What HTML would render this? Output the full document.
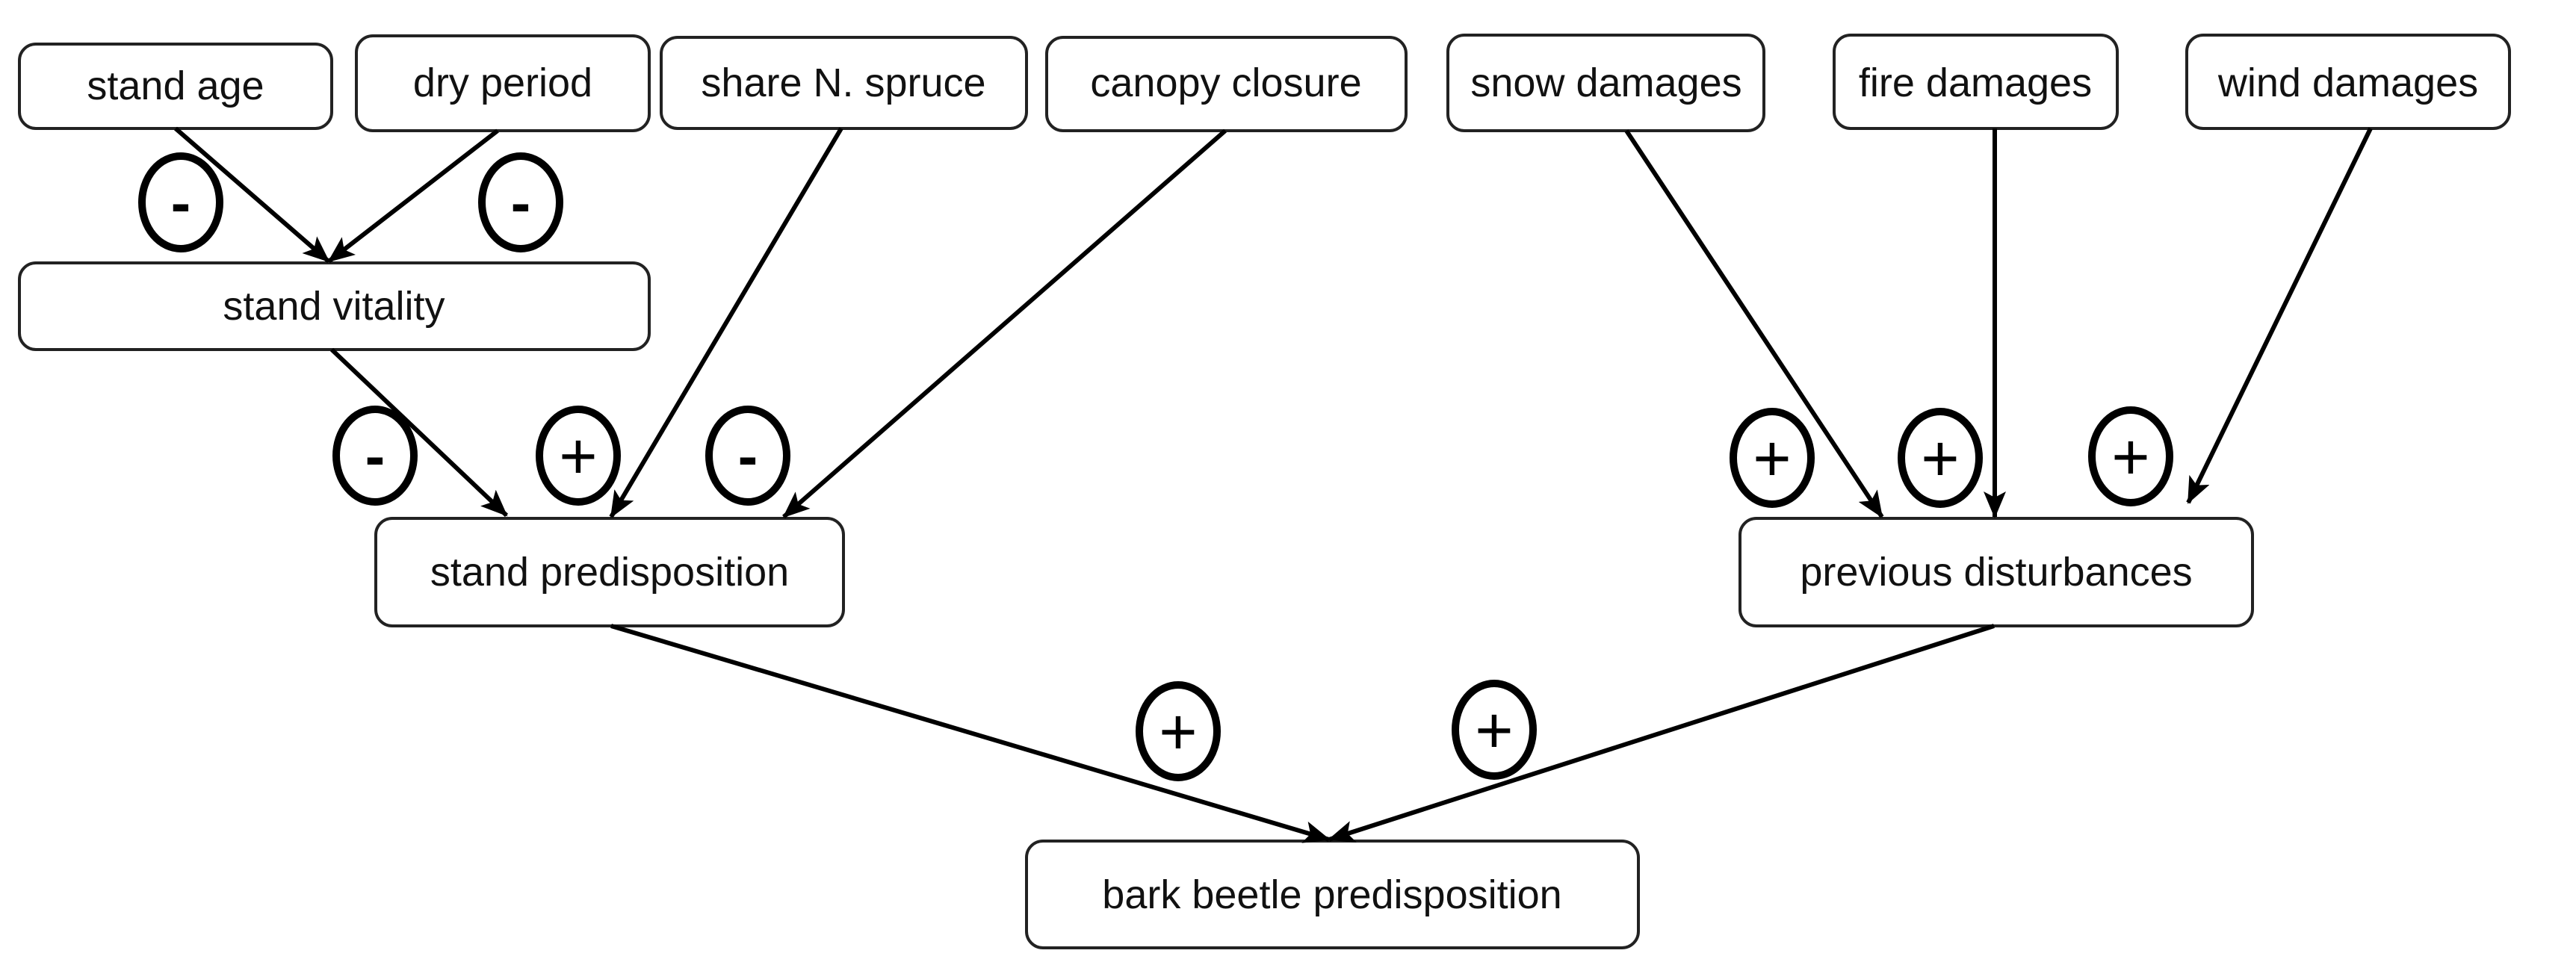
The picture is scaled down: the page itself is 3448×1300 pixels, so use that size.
<!DOCTYPE html>
<html><head><meta charset="utf-8"><style>
html,body{margin:0;padding:0;background:#fff;}
svg{display:block;}
text{font-family:"Liberation Sans",sans-serif;font-size:54px;fill:#111;}
.p{font-size:88px;font-weight:normal;fill:#000;}
.m{font-size:80px;font-weight:bold;fill:#000;}
</style></head><body>
<svg width="3448" height="1300" viewBox="0 0 3448 1300" xmlns="http://www.w3.org/2000/svg">
<defs>
<marker id="a" markerUnits="userSpaceOnUse" markerWidth="36" markerHeight="30" refX="34" refY="15" orient="auto">
<path d="M0,0 L36,15 L0,30 L8,15 Z" fill="#000"/>
</marker>
</defs>
<g fill="#fff" stroke="#222" stroke-width="4">
<rect x="26" y="59" width="418" height="113" rx="22"/>
<rect x="477" y="48" width="392" height="127" rx="22"/>
<rect x="885" y="50" width="489" height="122" rx="22"/>
<rect x="1401" y="50" width="481" height="125" rx="22"/>
<rect x="1938" y="47" width="423" height="128" rx="22"/>
<rect x="2455" y="47" width="379" height="125" rx="22"/>
<rect x="2927" y="47" width="432" height="125" rx="22"/>
<rect x="26" y="352" width="843" height="116" rx="22"/>
<rect x="503" y="694" width="626" height="144" rx="22"/>
<rect x="2329" y="694" width="686" height="144" rx="22"/>
<rect x="1374" y="1126" width="819" height="143" rx="22"/>
</g>
<g text-anchor="middle">
<text x="235" y="133">stand age</text>
<text x="673" y="129">dry period</text>
<text x="1129" y="129">share N. spruce</text>
<text x="1641" y="129">canopy closure</text>
<text x="2150" y="129">snow damages</text>
<text x="2644" y="129">fire damages</text>
<text x="3143" y="129">wind damages</text>
<text x="447" y="428">stand vitality</text>
<text x="816" y="784">stand predisposition</text>
<text x="2672" y="784">previous disturbances</text>
<text x="1783" y="1216">bark beetle predisposition</text>
</g>
<g stroke="#000" stroke-width="6" fill="none" marker-end="url(#a)">
<line x1="235" y1="172" x2="440" y2="350"/>
<line x1="666" y1="175" x2="440" y2="350"/>
<line x1="444" y1="468" x2="678" y2="690"/>
<line x1="1126" y1="172" x2="818" y2="692"/>
<line x1="1640" y1="175" x2="1049" y2="692"/>
<line x1="2177" y1="175" x2="2519" y2="692"/>
<line x1="2670" y1="172" x2="2670" y2="692"/>
<line x1="3173" y1="172" x2="2929" y2="673"/>
<line x1="818" y1="838" x2="1779" y2="1124"/>
<line x1="2669" y1="838" x2="1779" y2="1124"/>
</g>
<g fill="#fff" stroke="#000" stroke-width="10">
<ellipse cx="242" cy="271" rx="52" ry="62"/>
<ellipse cx="697" cy="271" rx="52" ry="62"/>
<ellipse cx="502" cy="610" rx="52" ry="62"/>
<ellipse cx="774" cy="610" rx="52" ry="62"/>
<ellipse cx="1001" cy="610" rx="52" ry="62"/>
<ellipse cx="1577" cy="979" rx="52" ry="62"/>
<ellipse cx="2000" cy="977" rx="52" ry="62"/>
<ellipse cx="2372" cy="613" rx="52" ry="62"/>
<ellipse cx="2597" cy="613" rx="52" ry="62"/>
<ellipse cx="2852" cy="611" rx="52" ry="62"/>
</g>
<g text-anchor="middle">
<text class="m" x="242" y="299">-</text>
<text class="m" x="697" y="299">-</text>
<text class="m" x="502" y="638">-</text>
<text class="p" x="774" y="641">+</text>
<text class="m" x="1001" y="638">-</text>
<text class="p" x="1577" y="1010">+</text>
<text class="p" x="2000" y="1008">+</text>
<text class="p" x="2372" y="644">+</text>
<text class="p" x="2597" y="644">+</text>
<text class="p" x="2852" y="642">+</text>
</g>
</svg>
</body></html>
